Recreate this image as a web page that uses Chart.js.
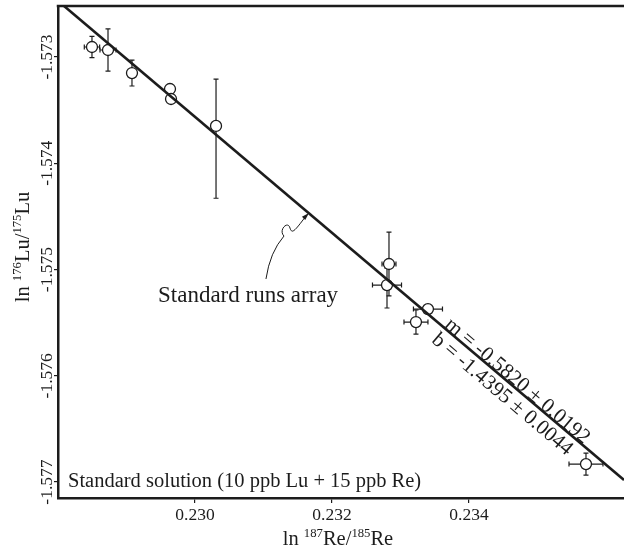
<!DOCTYPE html>
<html>
<head>
<meta charset="utf-8">
<script src="https://cdn.jsdelivr.net/npm/chart.js@4.4.0/dist/chart.umd.min.js"></script>
<style>
html,body{margin:0;padding:0;background:#fff;overflow:hidden}
#wrap{width:624px;height:553px;position:relative}
</style>
</head>
<body>
<div id="wrap"><canvas id="c" width="624" height="553"></canvas></div>
<script>
// ---- data ----
const xValues   = [0.228496, 0.228730, 0.229080, 0.229635, 0.229650, 0.230307, 0.232832, 0.232803, 0.233401, 0.233226, 0.235708];
const yValues   = [-1.572906, -1.572934, -1.573151, -1.573301, -1.573395, -1.573649, -1.574948, -1.575146, -1.575372, -1.575494, -1.576831];
const xErr      = [0.000112, 0.000117, 0, 0, 0, 0, 0.000102, 0.000212, 0.000212, 0.000175, 0.000248];
const yErrUp    = [0.000100, 0.000198, 0.000122, 0, 0, 0.000440, 0.000300, 0.000160, 0, 0.000113, 0.000104];
const yErrDown  = [0.000100, 0.000198, 0.000122, 0, 0, 0.000680, 0.000300, 0.000216, 0, 0.000113, 0.000104];
const fitLineX  = [0.228088, 0.236263];
const fitLineY  = [-1.57252, -1.576981];
const xTickLabels = [0.230, 0.232, 0.234];
const yTickLabels = [-1.573, -1.574, -1.575, -1.576, -1.577];
const xRange = [0.228, 0.236263];
const yRange = [-1.57715, -1.57252];
const slopeText = 'm = -0.5820 \u00B1 0.0192';
const interceptText = 'b = -1.4395 \u00B1 0.0044';
const runsLabel = 'Standard runs array';
const solutionLabel = 'Standard solution (10 ppb Lu + 15 ppb Re)';
// arrow (data units): start near label, bend, tip on the fitted line
const arrowStart = [0.231036, -1.575089];
const arrowBend  = [0.231299, -1.574666];
const arrowTip   = [0.231664, -1.574468];
const runsLabelAt = [0.229460, -1.575306];

const INK = '#1c1c1c';
const SERIF = '"Liberation Serif", "Times New Roman", serif';

function drawRich(ctx, parts, size){
  const supSize = size * 0.62;
  let total = 0;
  const w = parts.map(p => { ctx.font = (p.sup ? supSize : size) + 'px ' + SERIF; const m = ctx.measureText(p.t).width; total += m; return m; });
  let cx = -total / 2;
  parts.forEach((p, i) => {
    ctx.font = (p.sup ? supSize : size) + 'px ' + SERIF;
    ctx.fillText(p.t, cx, p.sup ? -size * 0.38 : 0);
    cx += w[i];
  });
}

const errorBars = {
  id: 'errorBars',
  beforeDatasetsDraw(chart){
    const {ctx, scales:{x, y}} = chart;
    ctx.save();
    ctx.strokeStyle = INK; ctx.lineWidth = 1.2;
    const cap = 2.5;
    xValues.forEach((xv, i) => {
      const px = x.getPixelForValue(xv), py = y.getPixelForValue(yValues[i]);
      ctx.beginPath();
      if (xErr[i] > 0){
        const l = x.getPixelForValue(xv - xErr[i]), r = x.getPixelForValue(xv + xErr[i]);
        ctx.moveTo(l, py); ctx.lineTo(r, py);
        ctx.moveTo(l, py - cap); ctx.lineTo(l, py + cap);
        ctx.moveTo(r, py - cap); ctx.lineTo(r, py + cap);
      }
      if (yErrUp[i] > 0 || yErrDown[i] > 0){
        const t = y.getPixelForValue(yValues[i] + yErrUp[i]), b = y.getPixelForValue(yValues[i] - yErrDown[i]);
        ctx.moveTo(px, t); ctx.lineTo(px, b);
        ctx.moveTo(px - cap, t); ctx.lineTo(px + cap, t);
        ctx.moveTo(px - cap, b); ctx.lineTo(px + cap, b);
      }
      ctx.stroke();
    });
    ctx.restore();
  }
};

const decorations = {
  id: 'decorations',
  afterDraw(chart){
    const {ctx, chartArea:ca, scales:{x, y}} = chart;
    ctx.save();
    ctx.fillStyle = INK; ctx.strokeStyle = INK;
    // top frame line
    ctx.lineWidth = 2.5;
    ctx.beginPath(); ctx.moveTo(ca.left - 1.25, ca.top); ctx.lineTo(ca.right + 2, ca.top); ctx.stroke();

    // y tick labels (rotated)
    ctx.font = '17.5px ' + SERIF;
    ctx.textAlign = 'center'; ctx.textBaseline = 'alphabetic';
    yTickLabels.forEach(v => {
      const py = y.getPixelForValue(v);
      ctx.save(); ctx.translate(ca.left - 6, py); ctx.rotate(-Math.PI / 2);
      ctx.fillText(v.toFixed(3), 0, 0); ctx.restore();
    });

    // axis titles
    ctx.textAlign = 'left';
    ctx.save(); ctx.translate(338, 545);
    drawRich(ctx, [{t:'ln '}, {t:'187', sup:true}, {t:'Re/'}, {t:'185', sup:true}, {t:'Re'}], 20.5);
    ctx.restore();
    ctx.save(); ctx.translate(29, 247); ctx.rotate(-Math.PI / 2);
    drawRich(ctx, [{t:'ln '}, {t:'176', sup:true}, {t:'Lu/'}, {t:'175', sup:true}, {t:'Lu'}], 20.5);
    ctx.restore();

    // slope / intercept labels along the fitted line
    const x0 = x.getPixelForValue(fitLineX[0]), y0 = y.getPixelForValue(fitLineY[0]);
    const x1 = x.getPixelForValue(fitLineX[1]), y1 = y.getPixelForValue(fitLineY[1]);
    const ang = Math.atan2(y1 - y0, x1 - x0);
    const t = 0.677;
    ctx.save();
    ctx.translate(x0 + (x1 - x0) * t, y0 + (y1 - y0) * t); ctx.rotate(ang);
    ctx.font = '21px ' + SERIF; ctx.textAlign = 'left'; ctx.textBaseline = 'alphabetic';
    ctx.fillText(slopeText, 0, -1);
    ctx.fillText(interceptText, 0, 19);
    ctx.restore();

    // runs label and arrow
    ctx.font = '23px ' + SERIF; ctx.textAlign = 'left'; ctx.textBaseline = 'alphabetic';
    ctx.fillText(runsLabel, x.getPixelForValue(runsLabelAt[0]), y.getPixelForValue(runsLabelAt[1]));
    const sx = x.getPixelForValue(arrowStart[0]), sy = y.getPixelForValue(arrowStart[1]);
    const bx = x.getPixelForValue(arrowBend[0]),  by = y.getPixelForValue(arrowBend[1]);
    const tx = x.getPixelForValue(arrowTip[0]),   ty = y.getPixelForValue(arrowTip[1]);
    ctx.lineWidth = 1;
    ctx.beginPath();
    ctx.moveTo(sx, sy);
    ctx.quadraticCurveTo(sx + 4, by + 18, bx, by + 2);
    ctx.bezierCurveTo(bx - 6, by - 4, bx + 4, by - 14, bx + 6, by - 6);
    ctx.bezierCurveTo(bx + 8, by, bx + 10, by - 2, tx - 3, ty + 3);
    ctx.stroke();
    const a = Math.atan2(ty - (by - 4), tx - (bx + 8));
    ctx.beginPath();
    ctx.moveTo(tx, ty);
    ctx.lineTo(tx - 8 * Math.cos(a - 0.3), ty - 8 * Math.sin(a - 0.3));
    ctx.lineTo(tx - 8 * Math.cos(a + 0.3), ty - 8 * Math.sin(a + 0.3));
    ctx.closePath(); ctx.fill();

    // bottom-left caption
    ctx.font = '20.5px ' + SERIF;
    ctx.fillText(solutionLabel, ca.left + 10, 487);
    ctx.restore();
  }
};

new Chart(document.getElementById('c'), {
  data: {
    datasets: [
      {
        type: 'line',
        data: fitLineX.map((v, i) => ({x: v, y: fitLineY[i]})),
        borderColor: INK, borderWidth: 2.6, pointRadius: 0, fill: false, order: 0
      },
      {
        type: 'scatter',
        data: xValues.map((v, i) => ({x: v, y: yValues[i]})),
        pointRadius: 5.5, pointBorderWidth: 1.3,
        pointBackgroundColor: '#fff', pointBorderColor: INK, order: 1
      }
    ]
  },
  options: {
    responsive: false, animation: false,
    layout: {autoPadding: false, padding: {top: 6, right: 0, left: 0, bottom: 0}},
    plugins: {legend: {display: false}, tooltip: {enabled: false}},
    scales: {
      x: {
        type: 'linear', min: xRange[0], max: xRange[1],
        afterBuildTicks: s => { s.ticks = xTickLabels.map(v => ({value: v})); },
        afterFit: s => { s.height = 55; },
        ticks: {color: INK, font: {family: SERIF, size: 17.5}, padding: 2, maxRotation: 0,
                callback: v => Number(v).toFixed(3)},
        grid: {display: true, drawOnChartArea: false, drawTicks: true, tickLength: 5, color: INK, lineWidth: 1.2},
        border: {display: true, color: INK, width: 2.5}
      },
      y: {
        type: 'linear', min: yRange[0], max: yRange[1],
        afterBuildTicks: s => { s.ticks = yTickLabels.map(v => ({value: v})); },
        afterFit: s => { s.width = 58; },
        ticks: {display: false},
        grid: {display: true, drawOnChartArea: false, drawTicks: true, tickLength: 4, color: INK, lineWidth: 1.2},
        border: {display: true, color: INK, width: 2.5}
      }
    }
  },
  plugins: [errorBars, decorations]
});
</script>
</body>
</html>
